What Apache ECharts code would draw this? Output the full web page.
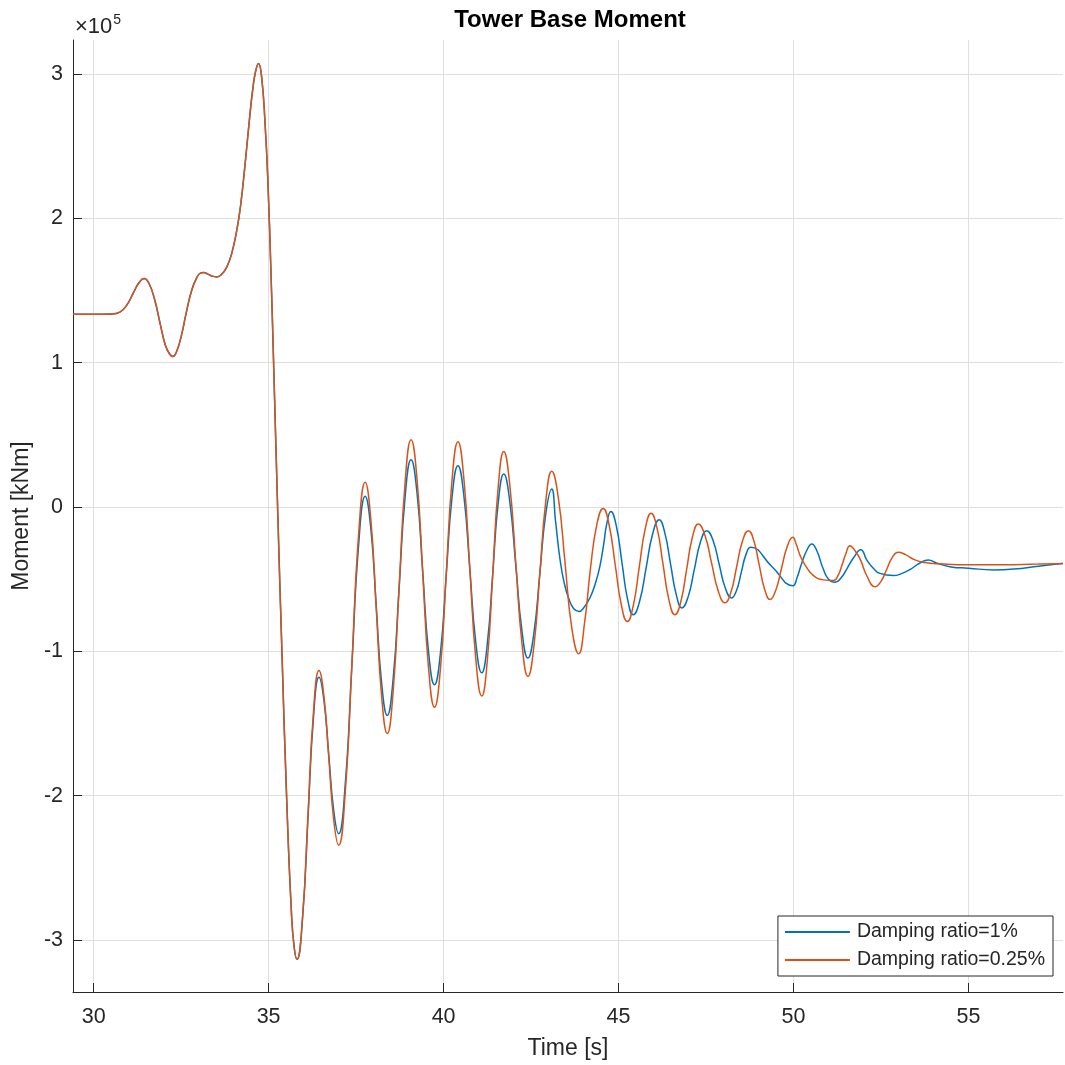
<!DOCTYPE html>
<html>
<head>
<meta charset="utf-8">
<script src="https://cdn.jsdelivr.net/npm/echarts@6/dist/echarts.min.js"></script>
<style>html,body{margin:0;padding:0;background:#fff}#c{width:1065px;height:1065px}</style>
</head>
<body>
<div id="c"></div>
<script>
// Moment values are in units of 10^5 kNm (the axis shows "x10^5").
// Damping ratio = 1%
const timeA = [29.41,30.0,30.5,30.75,30.95,31.15,31.3,31.44,31.58,31.75,31.9,32.05,32.17,32.26,32.36,32.5,32.65,32.8,32.95,33.05,33.14,33.25,33.38,33.52,33.65,33.8,33.95,34.1,34.2,34.33,34.45,34.55,34.63,34.71,34.8,34.9,34.98,35.07,35.14,35.26,35.38,35.52,35.65,35.73,35.81,
  35.97,36.125,36.28,36.44,36.58,36.72,36.86,37.0,37.19,37.38,37.57,37.76,37.92,38.075,38.23,38.39,38.56,38.73,38.90,39.07,39.24,39.405,39.57,39.74,39.91,40.075,40.24,40.41,40.58,40.75,40.92,41.09,41.25,41.405,41.56,41.72,41.89,42.065,42.24,42.41,42.58,42.75,42.92,43.09,43.2,43.32,43.45,43.6,43.72,43.87,44.0,44.19,44.35,44.47,44.58,44.66,44.78,44.94,45.10,45.26,45.42,45.605,45.79,45.975,46.16,46.32,46.485,46.65,46.81,46.99,47.165,47.34,47.52,47.70,47.875,48.05,48.23,48.37,48.505,48.64,48.78,49.38,49.98,50.1,50.22,50.38,50.52,50.66,50.85,51.0,51.19,51.36,51.52,51.72,51.92,52.1,52.3,52.47,52.85,53.1,53.35,53.6,53.85,54.1,54.5,55.0,55.71,56.3,57.0,57.7];
const momentA = [1.335,1.335,1.337,1.35,1.40,1.49,1.555,1.583,1.55,1.43,1.27,1.12,1.06,1.043,1.07,1.18,1.35,1.50,1.59,1.62,1.624,1.615,1.60,1.594,1.61,1.66,1.76,1.93,2.09,2.38,2.68,2.90,3.02,3.073,2.98,2.65,2.25,1.60,1.02,-0.03,-1.0,-2.05,-2.80,-3.05,-3.133,
  -2.847,-2.156,-1.465,-1.179,-1.338,-1.721,-2.104,-2.263,-1.92,-1.095,-0.268,0.074,-0.148,-0.685,-1.222,-1.444,-1.185,-0.559,0.068,0.327,0.099,-0.453,-1.004,-1.232,-1.01,-0.473,0.064,0.286,0.076,-0.432,-0.939,-1.149,-0.947,-0.461,0.026,0.228,0.041,-0.41,-0.86,-1.047,-0.875,-0.461,-0.047,0.125,-0.10,-0.35,-0.53,-0.65,-0.705,-0.724,-0.70,-0.625,-0.52,-0.406,-0.25,-0.12,-0.032,-0.137,-0.39,-0.642,-0.747,-0.65,-0.418,-0.185,-0.088,-0.178,-0.394,-0.609,-0.699,-0.621,-0.432,-0.243,-0.164,-0.232,-0.397,-0.562,-0.63,-0.579,-0.455,-0.33,-0.279,-0.412,-0.545,-0.49,-0.40,-0.30,-0.256,-0.30,-0.43,-0.50,-0.521,-0.49,-0.43,-0.35,-0.296,-0.37,-0.43,-0.46,-0.475,-0.46,-0.43,-0.39,-0.367,-0.39,-0.415,-0.424,-0.436,-0.43,-0.41,-0.39];
// Damping ratio = 0.25%
const timeB = [29.41,30.0,30.5,30.75,30.95,31.15,31.3,31.44,31.58,31.75,31.9,32.05,32.17,32.26,32.36,32.5,32.65,32.8,32.95,33.05,33.14,33.25,33.38,33.52,33.65,33.8,33.95,34.1,34.2,34.33,34.45,34.55,34.63,34.71,34.8,34.9,34.98,35.07,35.14,35.26,35.38,35.52,35.65,35.73,35.81,
  35.97,36.125,36.28,36.44,36.58,36.72,36.86,37.0,37.19,37.38,37.57,37.76,37.92,38.075,38.23,38.39,38.56,38.73,38.90,39.07,39.24,39.405,39.57,39.74,39.91,40.075,40.24,40.41,40.58,40.75,40.92,41.09,41.25,41.405,41.56,41.72,41.89,42.065,42.24,42.41,42.58,42.75,42.92,43.09,43.28,43.47,43.66,43.86,44.03,44.2,44.38,44.56,44.73,44.905,45.08,45.25,45.42,45.59,45.76,45.93,46.10,46.27,46.44,46.61,46.78,46.945,47.11,47.28,47.47,47.66,47.85,48.04,48.21,48.375,48.54,48.71,48.865,49.02,49.175,49.33,49.49,49.655,49.82,49.98,50.08,50.19,50.35,50.57,50.85,51.14,51.28,51.38,51.5,51.61,51.72,51.9,52.1,52.33,52.495,52.66,52.825,52.99,53.2,53.45,53.75,54.2,55.0,56.0,57.0,57.7];
const momentB = [1.335,1.335,1.337,1.35,1.40,1.49,1.555,1.583,1.55,1.43,1.27,1.12,1.06,1.043,1.07,1.18,1.35,1.50,1.59,1.62,1.624,1.615,1.60,1.594,1.61,1.66,1.76,1.93,2.09,2.38,2.68,2.90,3.02,3.073,2.98,2.65,2.25,1.60,1.02,-0.03,-1.0,-2.05,-2.80,-3.05,-3.133,
  -2.84,-2.133,-1.426,-1.133,-1.31,-1.739,-2.167,-2.344,-1.976,-1.087,-0.197,0.171,-0.084,-0.70,-1.315,-1.57,-1.272,-0.552,0.168,0.466,0.195,-0.461,-1.116,-1.387,-1.118,-0.468,0.183,0.452,0.194,-0.429,-1.052,-1.31,-1.062,-0.463,0.137,0.385,0.157,-0.395,-0.946,-1.174,-0.966,-0.464,0.039,0.247,0.062,-0.385,-0.832,-1.017,-0.80,-0.42,-0.12,-0.01,-0.125,-0.402,-0.679,-0.794,-0.684,-0.419,-0.154,-0.044,-0.147,-0.396,-0.644,-0.747,-0.655,-0.433,-0.210,-0.118,-0.198,-0.391,-0.584,-0.664,-0.591,-0.414,-0.237,-0.164,-0.234,-0.4025,-0.571,-0.641,-0.578,-0.426,-0.273,-0.21,-0.26,-0.337,-0.41,-0.475,-0.505,-0.51,-0.47,-0.406,-0.32,-0.268,-0.29,-0.36,-0.48,-0.552,-0.517,-0.433,-0.349,-0.314,-0.33,-0.365,-0.385,-0.394,-0.40,-0.40,-0.395,-0.394];
const seriesNames = ['Damping ratio=1%','Damping ratio=0.25%'];

const zip = (t, m) => t.map((v, i) => [v, m[i]]);
const ink = '#262626';
const gridColor = '#dfdfdf';
const font = 'Liberation Sans, Arial, Helvetica, sans-serif';
const chart = echarts.init(document.getElementById('c'), null, {renderer: 'canvas'});
chart.setOption({
  animation: false,
  backgroundColor: '#ffffff',
  textStyle: {fontFamily: font},
  grid: {left: 73, right: 2, top: 40, bottom: 72, containLabel: false},
  graphic: [
    {type: 'text', x: 570, y: 8, style: {text: 'Tower Base Moment', font: 'bold 24px ' + font, fill: '#000', textAlign: 'center', textVerticalAlign: 'top'}},
    {type: 'text', x: 75, y: 13, style: {text: '\u00d710{s|5}', font: '22px ' + font, fill: ink,
      rich: {s: {fontSize: 14, verticalAlign: 'top', padding: [0, 0, 14, 1], fill: ink, fontFamily: font}}}}
  ],
  legend: {
    data: seriesNames.map(n => ({name: n, icon: 'rect'})),
    orient: 'vertical',
    right: 12, bottom: 89,
    itemWidth: 65, itemHeight: 2, itemGap: 8,
    padding: [6, 8, 6, 7],
    backgroundColor: '#fff',
    borderColor: ink, borderWidth: 1, borderRadius: 0,
    textStyle: {fontSize: 19.5, color: ink, fontFamily: font, padding: [0, 0, 0, 2]}
  },
  xAxis: {
    type: 'value', min: 29.41, max: 57.7, splitNumber: 5,
    name: 'Time [s]', nameLocation: 'middle', nameGap: 45,
    nameTextStyle: {fontSize: 23, color: ink},
    axisLine: {show: true, onZero: false, lineStyle: {color: ink, width: 1}},
    axisTick: {show: true, inside: true, length: 9, lineStyle: {color: ink}},
    axisLabel: {fontSize: 21.5, color: ink, margin: 14, showMinLabel: false, showMaxLabel: false},
    splitLine: {show: true, showMinLine: false, showMaxLine: false, lineStyle: {color: gridColor, width: 1}}
  },
  yAxis: {
    type: 'value', min: -3.36, max: 3.235, splitNumber: 5,
    name: 'Moment [kNm]', nameLocation: 'middle', nameGap: 38,
    nameTextStyle: {fontSize: 23, color: ink},
    axisLine: {show: true, onZero: false, lineStyle: {color: ink, width: 1}},
    axisTick: {show: true, inside: true, length: 9, lineStyle: {color: ink}},
    axisLabel: {fontSize: 21.5, color: ink, margin: 10, showMinLabel: false, showMaxLabel: false},
    splitLine: {show: true, showMinLine: false, showMaxLine: false, lineStyle: {color: gridColor, width: 1}}
  },
  series: [
    {name: seriesNames[0], type: 'line', data: zip(timeA, momentA), smooth: 0.5, symbol: 'none', showSymbol: false,
      lineStyle: {color: '#0072BD', width: 1.5}, itemStyle: {color: '#0072BD'}},
    {name: seriesNames[1], type: 'line', data: zip(timeB, momentB), smooth: 0.5, symbol: 'none', showSymbol: false,
      lineStyle: {color: '#D95319', width: 1.5}, itemStyle: {color: '#D95319'}}
  ]
});
</script>
</body>
</html>
